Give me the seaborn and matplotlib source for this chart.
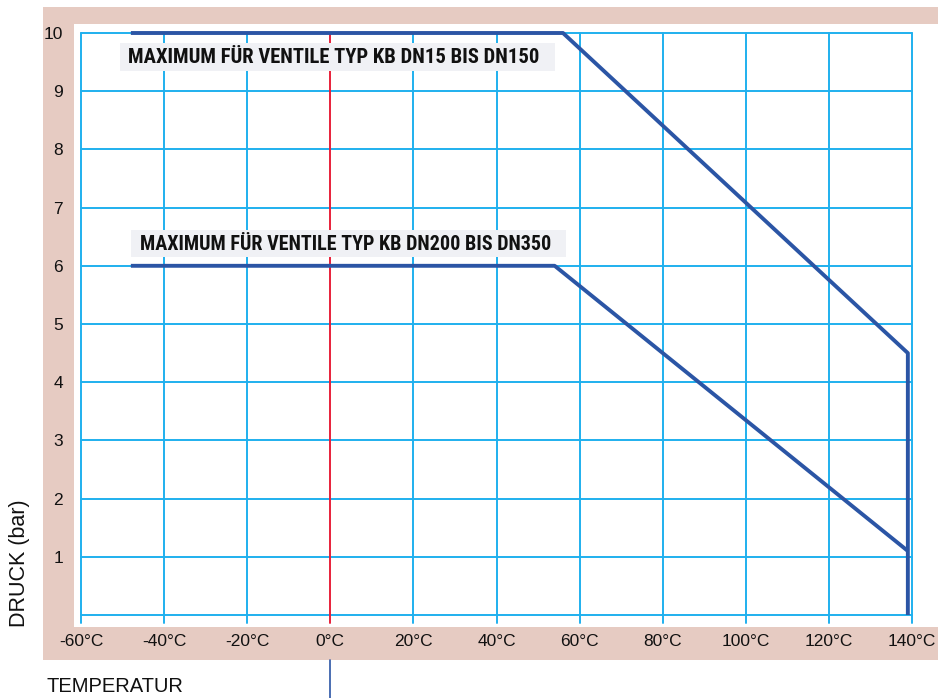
import matplotlib
matplotlib.use("Agg")
import matplotlib.pyplot as plt
from matplotlib import font_manager
from matplotlib.font_manager import FontProperties
import seaborn as sns
import pandas as pd
from matplotlib.patches import Rectangle

# ---- data ----
x_ticks = [-60, -40, -20, 0, 20, 40, 60, 80, 100, 120, 140]
x_tick_labels = ["-60°C", "-40°C", "-20°C", "0°C", "20°C", "40°C", "60°C",
                 "80°C", "100°C", "120°C", "140°C"]
y_ticks = [1, 2, 3, 4, 5, 6, 7, 8, 9, 10]
y_tick_labels = ["1", "2", "3", "4", "5", "6", "7", "8", "9", "10"]

temp_dn15 = [-48, 56, 139, 139]
druck_dn15 = [10, 10, 4.5, 0]
temp_dn200 = [-48, 54, 139]
druck_dn200 = [6, 6, 1.1]

label_dn15 = "MAXIMUM FÜR VENTILE TYP KB DN15 BIS DN150"
label_dn200 = "MAXIMUM FÜR VENTILE TYP KB DN200 BIS DN350"

df = pd.concat([
    pd.DataFrame({"temp": temp_dn15, "druck": druck_dn15, "serie": "DN15"}),
    pd.DataFrame({"temp": temp_dn200, "druck": druck_dn200, "serie": "DN200"}),
], ignore_index=True)

# ---- style ----
sns.set_style("white")
plt.rcParams["font.family"] = ["Liberation Sans", "DejaVu Sans"]


def is_bold(f):
    w = f.weight
    if isinstance(w, str):
        return w in ("bold", "heavy", "extra bold", "black", "semibold", "demibold", "demi")
    return w >= 600


def is_narrow(f):
    s = str(f.stretch)
    return ("Narrow" in f.name or "Condensed" in f.name or
            s in ("condensed", "semi-condensed", "extra-condensed", "ultra-condensed")
            or (s.isdigit() and int(s) < 500))


cands = [f for f in font_manager.fontManager.ttflist
         if is_bold(f) and is_narrow(f) and f.style == "normal"]
pref = ["Liberation Sans Narrow", "Roboto Condensed", "Open Sans Condensed",
        "Noto Sans", "DejaVu Sans"]
cands.sort(key=lambda f: next((i for i, p in enumerate(pref) if f.name.startswith(p)),
                              len(pref)))
if cands:
    bold_fp = FontProperties(fname=cands[0].fname)
else:
    bold_fp = FontProperties(family=["Roboto", "Liberation Sans"], weight="bold")

W, H = 938, 698
fig = plt.figure(figsize=(W / 100, H / 100), dpi=100)
fig.patch.set_facecolor("white")

beige = "#e6cbc2"
grid_c = "#1fb0ee"
line_c = "#2b55a5"
red_c = "#e8203a"
box_c = "#f0f1f5"


def fx(px):
    return px / W


def fy(py):
    return 1 - py / H


# beige frame and white inner area
fig.patches.append(Rectangle((fx(43), fy(660)), fx(938) - fx(43), fy(7) - fy(660),
                             transform=fig.transFigure, facecolor=beige,
                             edgecolor="none", zorder=-10))
fig.patches.append(Rectangle((fx(74), fy(627)), fx(938) - fx(74), fy(24) - fy(627),
                             transform=fig.transFigure, facecolor="white",
                             edgecolor="none", zorder=-9))

ax = fig.add_axes([fx(81), fy(615), fx(912) - fx(81), fy(33) - fy(615)])
ax.set_facecolor("none")
ax.set_xlim(-60, 140)
ax.set_ylim(0, 10)

# grid
for xv in x_ticks:
    if xv == 0:
        continue
    ax.plot([xv, xv], [-0.14, 10], color=grid_c, lw=1.4, clip_on=False, zorder=1)
for yv in [0] + y_ticks:
    ax.plot([-60, 140], [yv, yv], color=grid_c, lw=1.4, clip_on=False, zorder=1)
ax.plot([0, 0], [-0.14, 10], color=red_c, lw=1.4, clip_on=False, zorder=2)

for s in ax.spines.values():
    s.set_visible(False)

n_before = len(ax.lines)
sns.lineplot(data=df, x="temp", y="druck", units="serie", estimator=None,
             sort=False, color=line_c, lw=2.8, ax=ax, legend=False, zorder=3)
for ln in ax.lines[n_before:]:
    ln.set_clip_on(False)
    ln.set_solid_capstyle("butt")

ax.set_xticks(x_ticks)
ax.set_xticklabels(x_tick_labels, fontsize=12.5, color="#111111")
ax.set_yticks(y_ticks)
ax.set_yticklabels(y_tick_labels, fontsize=12.5, color="#111111")
ax.tick_params(axis="x", length=0, pad=14)
ax.tick_params(axis="y", length=0, pad=13)
ax.set_xlabel("")
ax.set_ylabel("")

renderer = fig.canvas.get_renderer()


def boxed_label(text, box_x0, box_x1, box_y0, box_y1, text_x0, target_w):
    fig.patches.append(Rectangle((fx(box_x0), fy(box_y1)), fx(box_x1) - fx(box_x0),
                                 fy(box_y0) - fy(box_y1), transform=fig.transFigure,
                                 facecolor=box_c, edgecolor="none", zorder=2))
    fp = bold_fp.copy()
    fp.set_size(15)
    t = fig.text(fx(text_x0), fy((box_y0 + box_y1) / 2 + 0.5), text,
                 fontproperties=fp, color="#111111",
                 ha="left", va="center", zorder=3)
    w = t.get_window_extent(renderer).width
    fp2 = bold_fp.copy()
    fp2.set_size(15 * target_w / w)
    t.set_fontproperties(fp2)
    return t


ax.set_zorder(1)
boxed_label(label_dn15, 120, 555, 43, 71, 128, 415)
boxed_label(label_dn200, 131, 566, 230, 257, 140, 415)

# axis titles
fig.text(fx(19), fy(627), "DRUCK (bar)", rotation=90, fontsize=15.5, ha="center",
         va="bottom", color="#111111")
fig.text(fx(46), fy(686.5), "TEMPERATUR", fontsize=14.5, ha="left", va="center",
         color="#111111")

# small blue marker line below the 0°C column
fig.lines.append(plt.Line2D([fx(330), fx(330)], [fy(660), fy(698)],
                            transform=fig.transFigure, color=line_c, lw=1.2))

fig.savefig("out.png", dpi=100)
